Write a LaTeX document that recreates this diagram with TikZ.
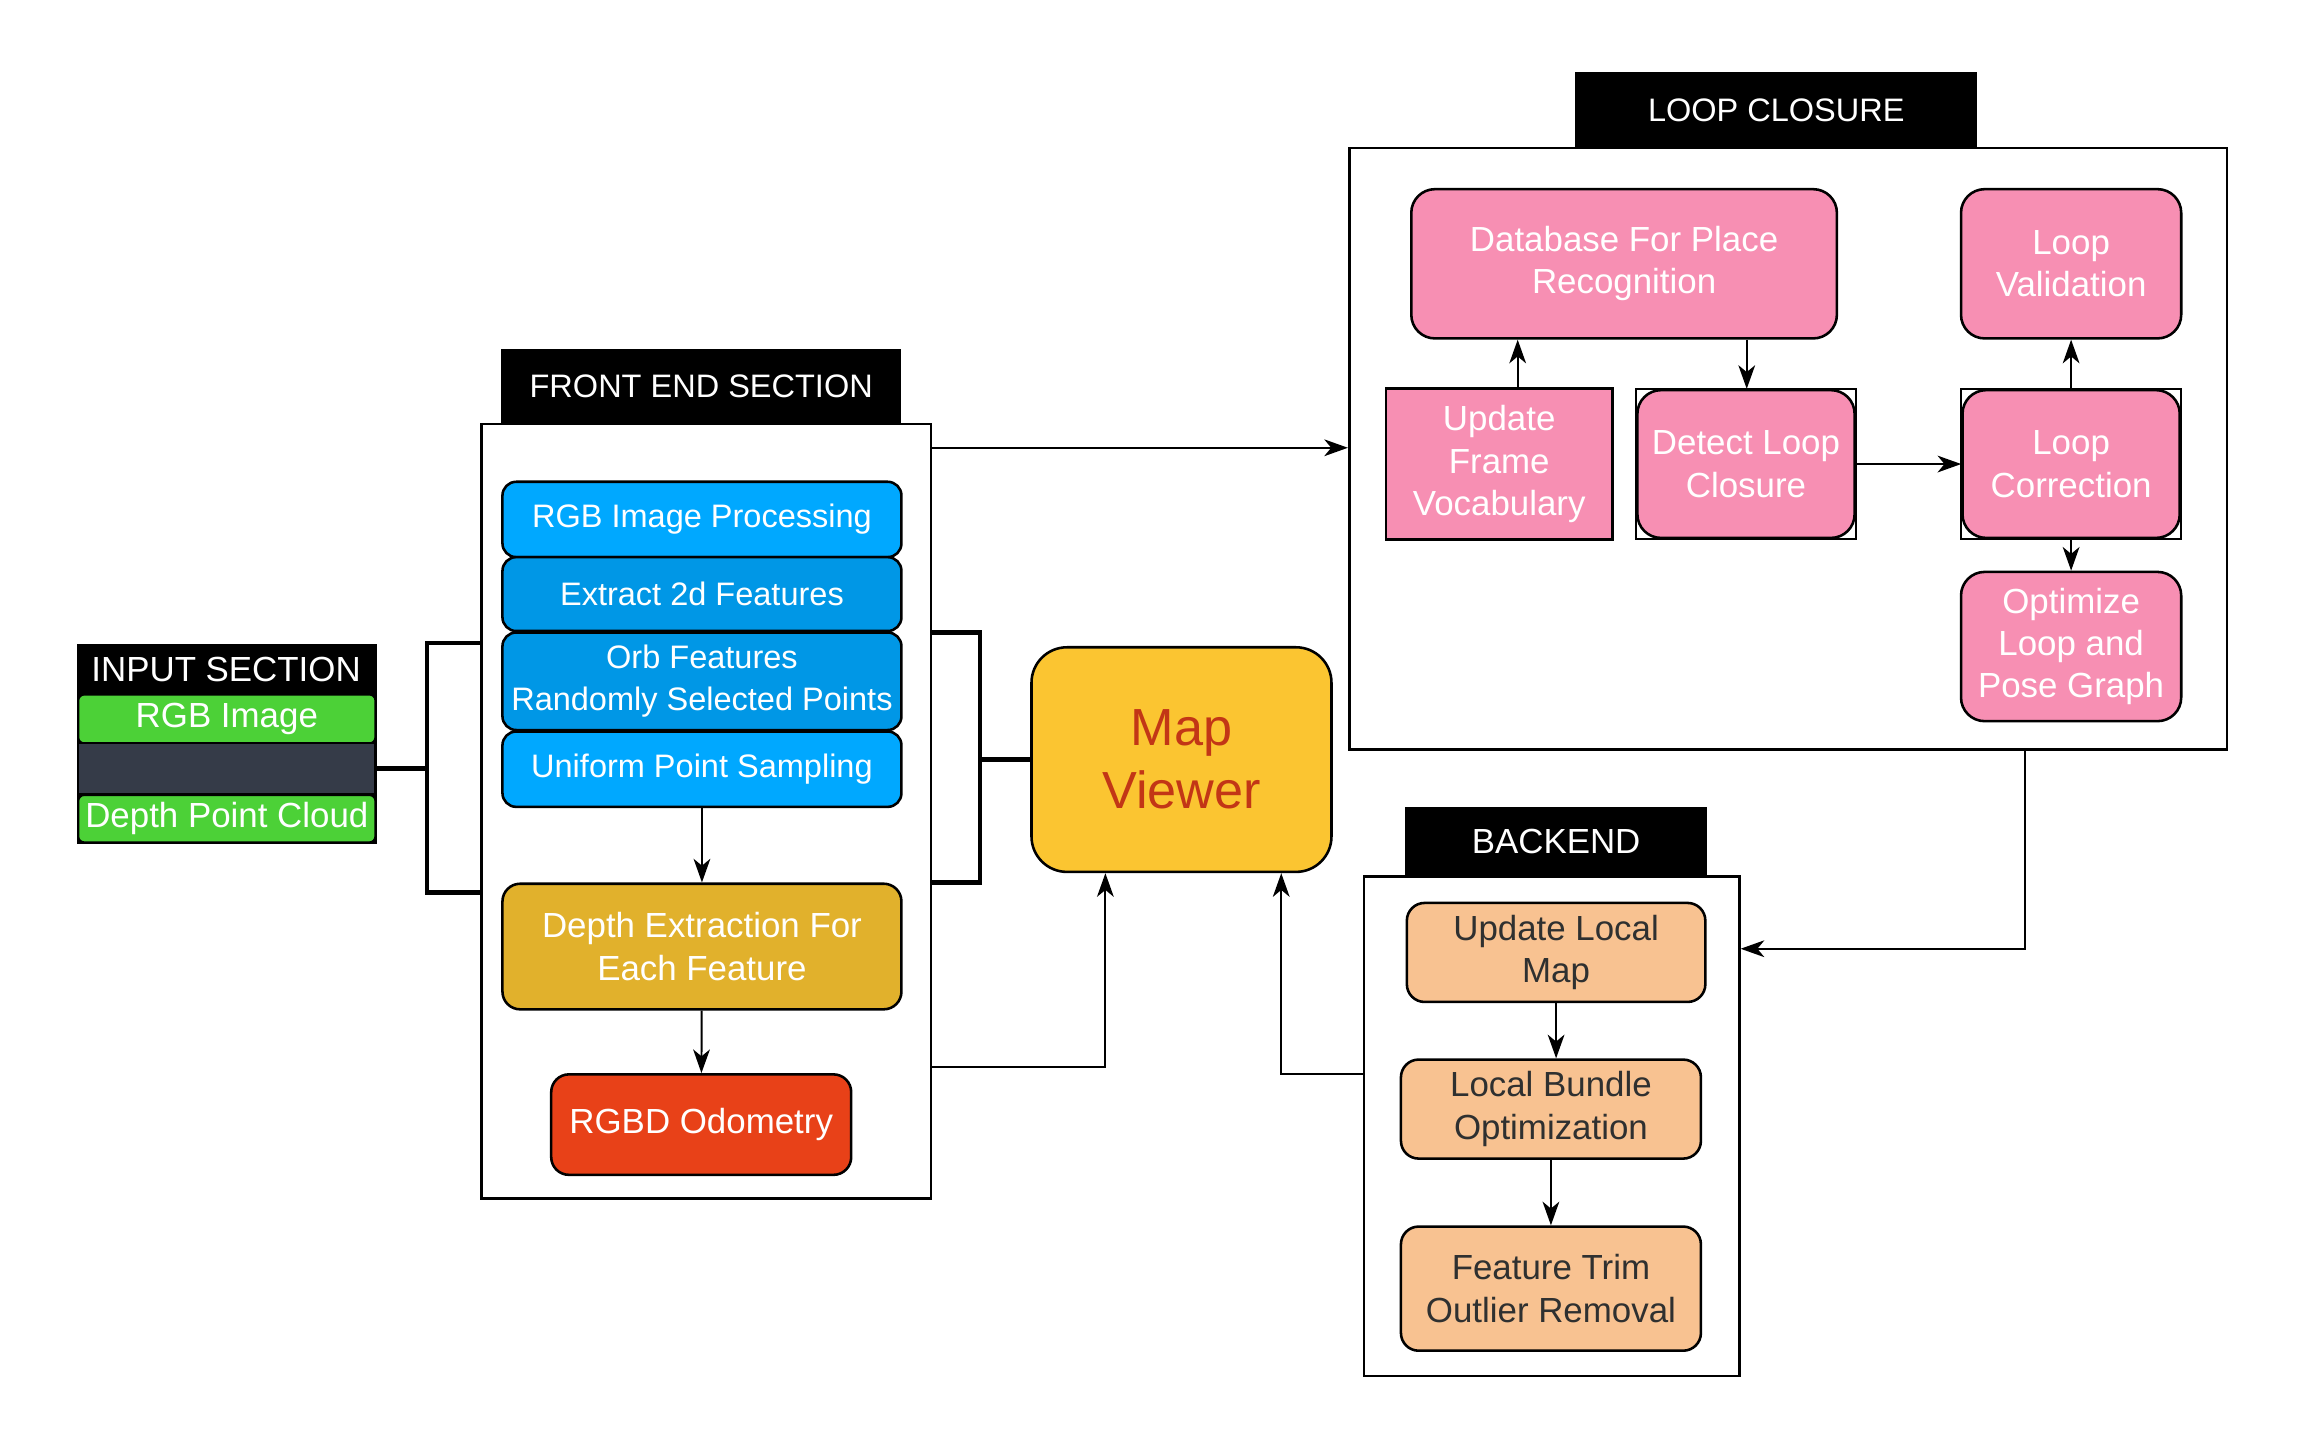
\documentclass[tikz,border=0pt]{standalone}
\usepackage{fontspec}
\setmainfont{Liberation Sans}
\usetikzlibrary{arrows.meta}
\definecolor{cgreen}{HTML}{4CD137}
\definecolor{cdark}{HTML}{353B48}
\definecolor{cblue}{HTML}{00A8FF}
\definecolor{cblued}{HTML}{0097E6}
\definecolor{cgold}{HTML}{E1B12C}
\definecolor{cred}{HTML}{E84118}
\definecolor{cyellow}{HTML}{FBC531}
\definecolor{cmvtext}{HTML}{C23616}
\definecolor{cpink}{HTML}{F78FB3}
\definecolor{cpeach}{HTML}{F8C291}
\definecolor{cbtext}{HTML}{2F3030}
\begin{document}
\begin{tikzpicture}[x=0.75pt,y=-0.75pt,
  sz/.style 2 args={minimum width={#1*0.75pt},minimum height={#2*0.75pt}},
  base/.style={draw=black,line width=1.3pt,inner sep=0pt,align=center,font=\fontsize{16.5}{21}\selectfont},
  bigf/.style={font=\fontsize{17.7}{21.5}\selectfont},
  frame/.style={draw=black,line width=1.3pt,fill=white,inner sep=0pt},
  ttl/.style={fill=black,text=white,inner sep=0pt,font=\fontsize{16.5}{21}\selectfont},
  bluebox/.style={base,fill=cblue,text=white,rounded corners=7pt},
  blueboxd/.style={base,fill=cblued,text=white,rounded corners=7pt},
  goldbox/.style={base,bigf,fill=cgold,text=white,rounded corners=9pt},
  redbox/.style={base,bigf,fill=cred,text=white,rounded corners=9pt},
  pinkbox/.style={base,bigf,fill=cpink,text=white,rounded corners=12pt},
  pinksq/.style={base,bigf,fill=cpink,text=white},
  peachbox/.style={base,bigf,fill=cpeach,text=cbtext,rounded corners=9pt},
  greenbox/.style={base,bigf,line width=1pt,fill=cgreen,text=white,rounded corners=3pt},
  arr/.style={-{Stealth[length=12pt,width=8.5pt,inset=3.5pt]},line width=1pt},
  brk/.style={line width=2.3pt}
]
\useasboundingbox (0,0) rectangle (1567.9,982.6);

% ---------- INPUT SECTION ----------
\node[fill=black,sz={203}{135}] (inp) at (153.5,503.5) {};
\node[text=white,inner sep=0pt,bigf] (inptitle) at (153,453) {INPUT SECTION};
\node[greenbox,sz={201}{33}] (rgbimg) at (153.5,486.5) {RGB Image};
\node[fill=cdark,draw=black,line width=1pt,sz={201}{34}] (dark) at (153.5,520) {};
\node[greenbox,sz={201}{32}] (dpc) at (153.5,554) {Depth Point Cloud};

% ---------- FRONT END ----------
\node[frame,sz={304}{524}] (fe) at (478,549) {};
\node[ttl,sz={271}{51}] (fetitle) at (474.5,261.5) {FRONT END SECTION};
\node[bluebox,sz={270}{51}] (rgbp) at (475,351.5) {RGB Image Processing};
\node[blueboxd,sz={270}{50}] (ext) at (475,402) {Extract 2d Features};
\node[blueboxd,sz={270}{66}] (orb) at (475,461) {Orb Features\\Randomly Selected Points};
\node[bluebox,sz={270}{51}] (uni) at (475,520.5) {Uniform Point Sampling};
\node[goldbox,sz={270}{85}] (depth) at (475,640.5) {Depth Extraction For\\Each Feature};
\node[redbox,sz={203}{68}] (odo) at (474.5,761) {RGBD Odometry};

% ---------- MAP VIEWER ----------
\node[base,fill=cyellow,text=cmvtext,rounded corners=18pt,sz={203}{152},
      font=\fontsize{26.5}{32}\selectfont] (mv) at (799.5,514) {Map\\Viewer};

% ---------- LOOP CLOSURE ----------
\node[frame,sz={594}{407}] (lc) at (1210,303.5) {};
\node[ttl,sz={272}{51}] (lctitle) at (1202,74.5) {LOOP CLOSURE};
\node[pinkbox,sz={288}{101}] (db) at (1099,178.5) {Database For Place\\Recognition};
\node[pinkbox,sz={149}{101}] (lv) at (1401.5,178.5) {Loop\\Validation};
\node[pinksq,sz={153}{102}] (ufv) at (1014.5,314) {Update\\Frame\\Vocabulary};
\draw[line width=1pt] (1107,263) rectangle (1256,365);
\node[pinkbox,sz={147}{100}] (dlc) at (1181.5,314) {Detect Loop\\Closure};
\draw[line width=1pt] (1327,263) rectangle (1476,365);
\node[pinkbox,sz={147}{100}] (lcorr) at (1401.5,314) {Loop\\Correction};
\node[pinkbox,sz={149}{101}] (opt) at (1401.5,437.5) {Optimize\\Loop and\\Pose Graph};

% ---------- BACKEND ----------
\node[frame,sz={254}{338}] (be) at (1050,762) {};
\node[ttl,bigf,sz={204}{47}] (betitle) at (1053,569.5) {BACKEND};
\node[peachbox,sz={202}{67}] (ulm) at (1053,644.5) {Update Local\\Map};
\node[peachbox,sz={203}{67}] (lbo) at (1049.5,750.5) {Local Bundle\\Optimization};
\node[peachbox,sz={203}{84}] (ftr) at (1049.5,872) {Feature Trim\\Outlier Removal};

% ---------- BRACKETS ----------
\coordinate (lb1) at (289,435);
\coordinate (lb2) at (289,604);
\draw[brk] (fe.west |- lb1) -- (lb1) -- (lb2) -- (fe.west |- lb2);
\draw[brk] (dark.east) -- (lb1 |- dark.east);
\coordinate (rb1) at (663,428);
\coordinate (rb2) at (663,597);
\draw[brk] (fe.east |- rb1) -- (rb1) -- (rb2) -- (fe.east |- rb2);
\draw[brk] (rb1 |- mv.west) -- (mv.west);

% ---------- CONNECTORS ----------
\draw[arr] (uni) -- (depth);
\draw[arr] (depth) -- (odo);
\draw[arr] (fe.east |- 0,303) -- (lc.west |- 0,303);
\draw[arr] (fe.east |- 0,722) -| (mv.south -| 748,0);
\draw[arr] (be.west |- 0,727) -| (mv.south -| 867,0);
\draw[arr] (lc.south -| 1370,0) |- (be.east |- 0,642);

\draw[arr] (ufv.north -| 1027,0) -- (db.south -| 1027,0);
\draw[arr] (db.south -| 1182,0) -- (dlc.north -| 1182,0);
\draw[arr] (dlc) -- (lcorr);
\draw[arr] (lcorr) -- (lv);
\draw[arr] (lcorr) -- (opt);

\draw[arr] (ulm) -- (ulm |- lbo.north);
\draw[arr] (lbo) -- (ftr);
\end{tikzpicture}
\end{document}
